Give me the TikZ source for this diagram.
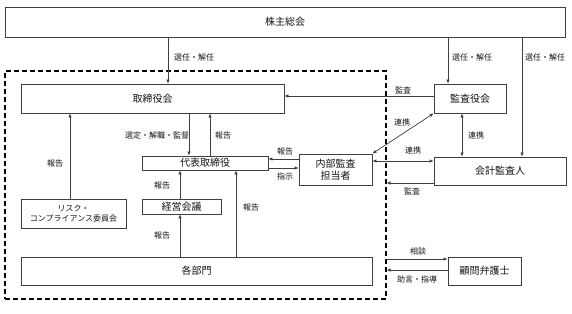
\documentclass[tikz,border=0pt]{standalone}
\usepackage{fontspec}
\setmainfont{Noto Sans CJK JP}
\usetikzlibrary{arrows.meta}
\definecolor{linec}{HTML}{404040}
\definecolor{textc}{HTML}{141414}
\begin{document}
\begin{tikzpicture}[x=1pt,y=-1pt,
 box/.style={draw=linec, line width=0.8pt, inner sep=0pt, font=\fontsize{10}{11.5}\selectfont, text=textc, align=center},
 lbl/.style={font=\fontsize{8}{9}\selectfont, text=textc, inner sep=0pt},
 arr/.style={draw=linec, line width=0.7pt, -{Latex[length=4pt,width=3.5pt]}},
 darr/.style={draw=linec, line width=0.7pt, {Latex[length=4pt,width=3.5pt]}-{Latex[length=4pt,width=3.5pt]}},
 dbx/.style={draw=black, line width=1.1pt, dash pattern=on 5pt off 3pt, inner sep=0pt}]
\useasboundingbox[fill=white] (0,0) rectangle (572,313);

% dashed company boundary
\node[dbx, minimum width=381pt, minimum height=228pt] (dbox) at (195.5,185) {};

% boxes
\node[box, minimum width=560pt, minimum height=30pt] (kabu) at (285,22) {株主総会};
\node[box, minimum width=263pt, minimum height=29pt] (tori) at (152.5,98.5) {取締役会};
\node[box, minimum width=72pt, minimum height=29pt] (kansa) at (470,98.5) {監査役会};
\node[box, minimum width=126pt, minimum height=14pt] (daihyo) at (205,163) {代表取締役};
\node[box, minimum width=73pt, minimum height=31pt] (naibu) at (335.5,169.5) {内部監査\\担当者};
\node[box, minimum width=132pt, minimum height=28pt] (kaikei) at (500,171) {会計監査人};
\node[box, minimum width=105pt, minimum height=29pt, font=\fontsize{8}{10}\selectfont] (risk) at (73.5,213.5) {リスク・\\コンプライアンス委員会};
\node[box, minimum width=79pt, minimum height=15pt] (keiei) at (181.5,206.5) {経営会議};
\node[box, minimum width=351pt, minimum height=28pt] (kakubu) at (196.5,271) {各部門};
\node[box, minimum width=73pt, minimum height=28pt] (komon) at (484.5,271) {顧問弁護士};

% reference coordinates
\coordinate (xa) at (168,0);
\coordinate (xb) at (448,0);
\coordinate (xc) at (522,0);
\coordinate (xd) at (189,0);
\coordinate (xe) at (210,0);
\coordinate (xf) at (462,0);
\coordinate (xg) at (70,0);
\coordinate (xh) at (180,0);
\coordinate (xi) at (236,0);
\coordinate (ya) at (0,96);
\coordinate (yb) at (0,159);
\coordinate (yc) at (0,168);
\coordinate (yd) at (0,161);
\coordinate (ye) at (0,183);
\coordinate (yf) at (0,259);
\coordinate (yg) at (0,270);

% connectors
\draw[arr] (kabu.south -| xa) -- (tori.north -| xa);
\draw[arr] (kabu.south -| xb) -- (kansa.north -| xb);
\draw[arr] (kabu.south -| xc) -- (kaikei.north -| xc);
\draw[arr] (kansa.west |- ya) -- (tori.east |- ya);
\draw[arr] (tori.south -| xd) -- (daihyo.north -| xd);
\draw[arr] (daihyo.north -| xe) -- (tori.south -| xe);
\draw[arr] (naibu.west |- yb) -- (daihyo.east |- yb);
\draw[arr] (daihyo.east |- yc) -- (naibu.west |- yc);
\draw[darr] (kansa.south -| xf) -- (kaikei.north -| xf);
\draw[darr] (kansa.south west) -- (naibu.north east);
\draw[darr] (naibu.east |- yd) -- (kaikei.west |- yd);
\draw[arr] (kaikei.west |- ye) -- (dbox.east |- ye);
\draw[arr] (risk.north -| xg) -- (tori.south -| xg);
\draw[arr] (keiei.north -| xh) -- (daihyo.south -| xh);
\draw[arr] (kakubu.north -| xh) -- (keiei.south -| xh);
\draw[arr] (kakubu.north -| xi) -- (daihyo.south -| xi);
\draw[arr] (dbox.east |- yf) -- (komon.west |- yf);
\draw[arr] (komon.west |- yg) -- (dbox.east |- yg);

% labels
\node[lbl] (l1) at (194,57) {選任・解任};
\node[lbl] (l2) at (472,57) {選任・解任};
\node[lbl] (l3) at (545,57) {選任・解任};
\node[lbl] (l4) at (403,90) {監査};
\node[lbl] (l5) at (157,135) {選定・解職・監督};
\node[lbl] (l6) at (223,135) {報告};
\node[lbl] (l7) at (285,151) {報告};
\node[lbl] (l8) at (285,176) {指示};
\node[lbl] (l9) at (476,135) {連携};
\node[lbl] (l10) at (402,122) {連携};
\node[lbl] (l11) at (413,150) {連携};
\node[lbl] (l12) at (412,191) {監査};
\node[lbl] (l13) at (55,163) {報告};
\node[lbl] (l14) at (162,185) {報告};
\node[lbl] (l15) at (162,235) {報告};
\node[lbl] (l16) at (251,207) {報告};
\node[lbl] (l17) at (418,251) {相談};
\node[lbl] (l18) at (417,279) {助言・指導};
\end{tikzpicture}
\end{document}
